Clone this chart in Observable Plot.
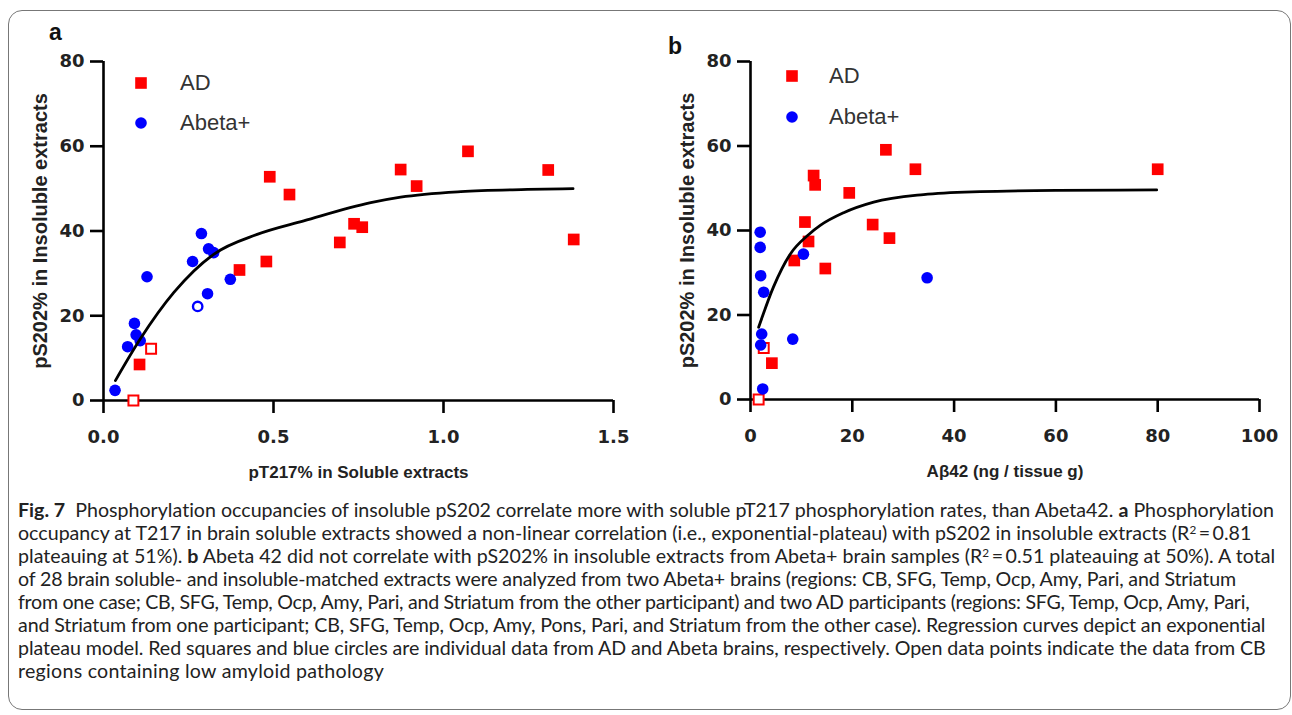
<!DOCTYPE html>
<html><head><meta charset="utf-8">
<script src="https://cdn.jsdelivr.net/npm/d3@7"></script>
<script src="https://cdn.jsdelivr.net/npm/@observablehq/plot@0.6"></script>
<style>
body{margin:0;background:#fff;width:1292px;height:715px;position:relative;overflow:hidden;font-family:"Liberation Sans",Arial,sans-serif;}
#frame{position:absolute;left:8px;top:10px;width:1283px;height:700px;border:1px solid #777;border-radius:14px;box-sizing:border-box;}
#pa{position:absolute;left:0;top:0;}
#pb{position:absolute;left:640px;top:0;}
.letter{position:absolute;font:bold 23px "Liberation Sans",Arial,sans-serif;color:#111;line-height:1;}
.leg{position:absolute;display:flex;align-items:center;font:22px "Liberation Sans",Arial,sans-serif;color:#333;height:30px;}
.leg svg{position:absolute;left:0;top:0;}
#caption{position:absolute;left:18px;top:498px;font-family:Lato,"Open Sans",sans-serif;color:#222;}
.ln{white-space:nowrap;height:23px;line-height:23px;}
sup{font-size:0.6em;line-height:0;vertical-align:0.55em;}
</style></head>
<body>
<div id="frame"></div>
<div id="pa"></div>
<div id="pb"></div>
<div class="letter" style="left:49px;top:21px;">a</div>
<div class="letter" style="left:668px;top:35px;">b</div>
<div id="legends"></div>
<div id="caption"></div>
<script>
// ---------- Panel a data (pT217% soluble vs pS202% insoluble) ----------
const aAdX      = [0.106,0.400,0.479,0.489,0.547,0.695,0.737,0.761,0.874,0.921,1.072,1.308,1.383];
const aAdY      = [8.5,30.8,32.8,52.8,48.6,37.3,41.7,40.9,54.5,50.6,58.8,54.4,38.0];
const aAdOpenX  = [0.088,0.140];
const aAdOpenY  = [0,12.2];
const aAbX      = [0.034,0.071,0.091,0.096,0.108,0.128,0.262,0.288,0.306,0.309,0.324,0.373];
const aAbY      = [2.4,12.7,18.2,15.5,14.1,29.2,32.8,39.4,25.2,35.8,34.9,28.6];
const aAbOpenX  = [0.277];
const aAbOpenY  = [22.2];
const aFitX     = [0.035,0.108,0.207,0.324,0.452,0.589,0.786,0.874,1.051,1.247,1.381];
const aFitY     = [4.7,14.5,25.5,34.5,39.2,42.4,46.7,48.0,49.3,49.8,50.0];
const aXTicks   = [0,0.5,1.0,1.5];

// ---------- Panel b data (Abeta42 vs pS202% insoluble) ----------
const bAdX      = [4.2,8.6,10.7,11.4,12.4,12.7,14.7,19.4,24.0,26.6,27.3,32.4,80.0];
const bAdY      = [8.6,32.9,42.0,37.4,53.0,50.8,31.0,48.9,41.4,59.1,38.2,54.5,54.5];
const bAdOpenX  = [1.6,2.6];
const bAdOpenY  = [0,12.2];
const bAbX      = [1.9,1.9,2.0,2.6,2.2,2.0,2.4,8.3,10.4,34.7];
const bAbY      = [39.6,36.0,29.3,25.4,15.5,12.9,2.5,14.3,34.4,28.8];
const bFitX     = [1.6,4.5,7.8,11.4,13.7,18.3,24.2,34.0,45.1,60.2,79.8];
const bFitY     = [17.1,26.6,34.4,39.0,41.2,44.2,46.7,48.5,49.2,49.5,49.6];
const bXTicks   = [0,20,40,60,80,100];

const yTicks = [0,20,40,60,80];
const yLabel = "pS202% in Insoluble extracts";
const aXLabel = "pT217% in Soluble extracts";
const bXLabel = "A\u03b242 (ng / tissue g)";

const RED = "#ff0000", BLUE = "#0000ff";
const zip = (xs, ys) => xs.map((x, i) => ({x, y: ys[i]}));

function panel(o) {
  const axisFont = {fontSize: 18, fontWeight: "bold", fontFamily: "DejaVu Sans, sans-serif", fill: "#222", stroke: "black", strokeWidth: 2.6};
  return Plot.plot({
    width: 640, height: 500,
    marginLeft: o.marginLeft, marginRight: o.marginRight, marginTop: 61, marginBottom: o.marginBottom,
    x: {domain: o.xDomain}, y: {domain: [0, 80]},
    style: {background: "transparent", overflow: "visible"},
    marks: [
      Plot.ruleY([0], {x1: o.xDomain[0], x2: o.xDomain[1], stroke: "black", strokeWidth: 2.6}),
      Plot.ruleX([0], {y1: 0, y2: 80, stroke: "black", strokeWidth: 2.6}),
      Plot.axisX({ticks: o.xTicks, tickFormat: o.xFmt, tickSize: 13, tickPadding: 17, label: null, ...axisFont}),
      Plot.axisY({ticks: yTicks, tickSize: 13, tickPadding: 6, label: null, ...axisFont}),
      Plot.dot(zip(o.adX, o.adY), {x: "x", y: "y", symbol: "square", r: 6.6, fill: RED}),
      Plot.dot(zip(o.adOX, o.adOY), {x: "x", y: "y", symbol: "square", r: 5.6, fill: "white", stroke: RED, strokeWidth: 2}),
      Plot.dot(zip(o.abX, o.abY), {x: "x", y: "y", r: 5.8, fill: BLUE}),
      Plot.dot(zip(o.abOX, o.abOY), {x: "x", y: "y", r: 4.7, fill: "white", stroke: BLUE, strokeWidth: 2.4}),
      Plot.line(zip(o.fitX, o.fitY), {x: "x", y: "y", curve: "monotone-x", stroke: "black", strokeWidth: 2.8}),
      Plot.text([o.xLabel], {frameAnchor: "bottom", dy: 72, textAnchor: "middle", lineAnchor: "middle", fontSize: 17, fontWeight: "bold", fontFamily: "Liberation Sans, Arial, sans-serif", fill: "#222"}),
      Plot.text([yLabel], {frameAnchor: "left", dx: -63, rotate: -90, textAnchor: "middle", lineAnchor: "middle", fontSize: 20, fontWeight: "bold", fontFamily: "Liberation Sans, Arial, sans-serif", fill: "#222"})
    ]
  });
}

document.getElementById("pa").append(panel({
  marginLeft: 103, marginRight: 27, marginBottom: 100, xDomain: [0, 1.5], xTicks: aXTicks, xFmt: d3.format(".1f"),
  adX: aAdX, adY: aAdY, adOX: aAdOpenX, adOY: aAdOpenY, abX: aAbX, abY: aAbY, abOX: aAbOpenX, abOY: aAbOpenY,
  fitX: aFitX, fitY: aFitY, xLabel: aXLabel
}));
document.getElementById("pb").append(panel({
  marginLeft: 110, marginRight: 21, marginBottom: 101, xDomain: [0, 100], xTicks: bXTicks, xFmt: d3.format("d"),
  adX: bAdX, adY: bAdY, adOX: bAdOpenX, adOY: bAdOpenY, abX: bAbX, abY: bAbY, abOX: [], abOY: [],
  fitX: bFitX, fitY: bFitY, xLabel: bXLabel
}));

// ---------- Legends ----------
const legendItems = [
  {label: "AD", color: RED, symbol: "square"},
  {label: "Abeta+", color: BLUE, symbol: "circle"}
];
const legendPlaces = [{left: 126, top: 68, gap: 40, textGap: 54}, {left: 777, top: 61, gap: 41, textGap: 52}];
const legHost = document.getElementById("legends");
legendPlaces.forEach(p => {
  legendItems.forEach((it, i) => {
    const d = document.createElement("div");
    d.className = "leg";
    d.style.left = p.left + "px";
    d.style.top = (p.top + i * p.gap) + "px";
    const shape = it.symbol === "square"
      ? `<rect x="9.2" y="9.2" width="11.6" height="11.6" fill="${it.color}"/>`
      : `<circle cx="15" cy="15" r="5.8" fill="${it.color}"/>`;
    d.innerHTML = `<svg width="30" height="30">${shape}</svg><span style="margin-left:${p.textGap}px">${it.label}</span>`;
    legHost.append(d);
  });
});

// ---------- Caption ----------
const captionLines = [
  "<b>Fig. 7</b>&nbsp; Phosphorylation occupancies of insoluble pS202 correlate more with soluble pT217 phosphorylation rates, than Abeta42. <b>a</b> Phosphorylation",
  "occupancy at T217 in brain soluble extracts showed a non-linear correlation (i.e., exponential-plateau) with pS202 in insoluble extracts (R<sup>2</sup>\u2009=\u20090.81",
  "plateauing at 51%). <b>b</b> Abeta 42 did not correlate with pS202% in insoluble extracts from Abeta+ brain samples (R<sup>2</sup>\u2009=\u20090.51 plateauing at 50%). A total",
  "of 28 brain soluble- and insoluble-matched extracts were analyzed from two Abeta+ brains (regions: CB, SFG, Temp, Ocp, Amy, Pari, and Striatum",
  "from one case; CB, SFG, Temp, Ocp, Amy, Pari, and Striatum from the other participant) and two AD participants (regions: SFG, Temp, Ocp, Amy, Pari,",
  "and Striatum from one participant; CB, SFG, Temp, Ocp, Amy, Pons, Pari, and Striatum from the other case). Regression curves depict an exponential",
  "plateau model. Red squares and blue circles are individual data from AD and Abeta brains, respectively. Open data points indicate the data from CB",
  "regions containing low amyloid pathology"
];
// right edge (page px) of each caption line in the reference
const captionRight = [1275, 1252, 1275, 1236, 1250, 1266, 1266, 384];
const cap = document.getElementById("caption");
cap.style.fontSize = "20px";
const spans = captionLines.map(t => { const d = document.createElement("div"); d.className = "ln"; d.innerHTML = `<span>${t}</span>`; cap.append(d); return d.firstChild; });
const w0 = spans[0].getBoundingClientRect().width;
cap.style.fontSize = (20 * 1257 / w0).toFixed(2) + "px";
spans.forEach((s, i) => {
  const target = captionRight[i] - 18;
  const w = s.getBoundingClientRect().width;
  const n = s.textContent.length;
  s.style.letterSpacing = ((target - w) / n).toFixed(3) + "px";
});
</script>
</body></html>
